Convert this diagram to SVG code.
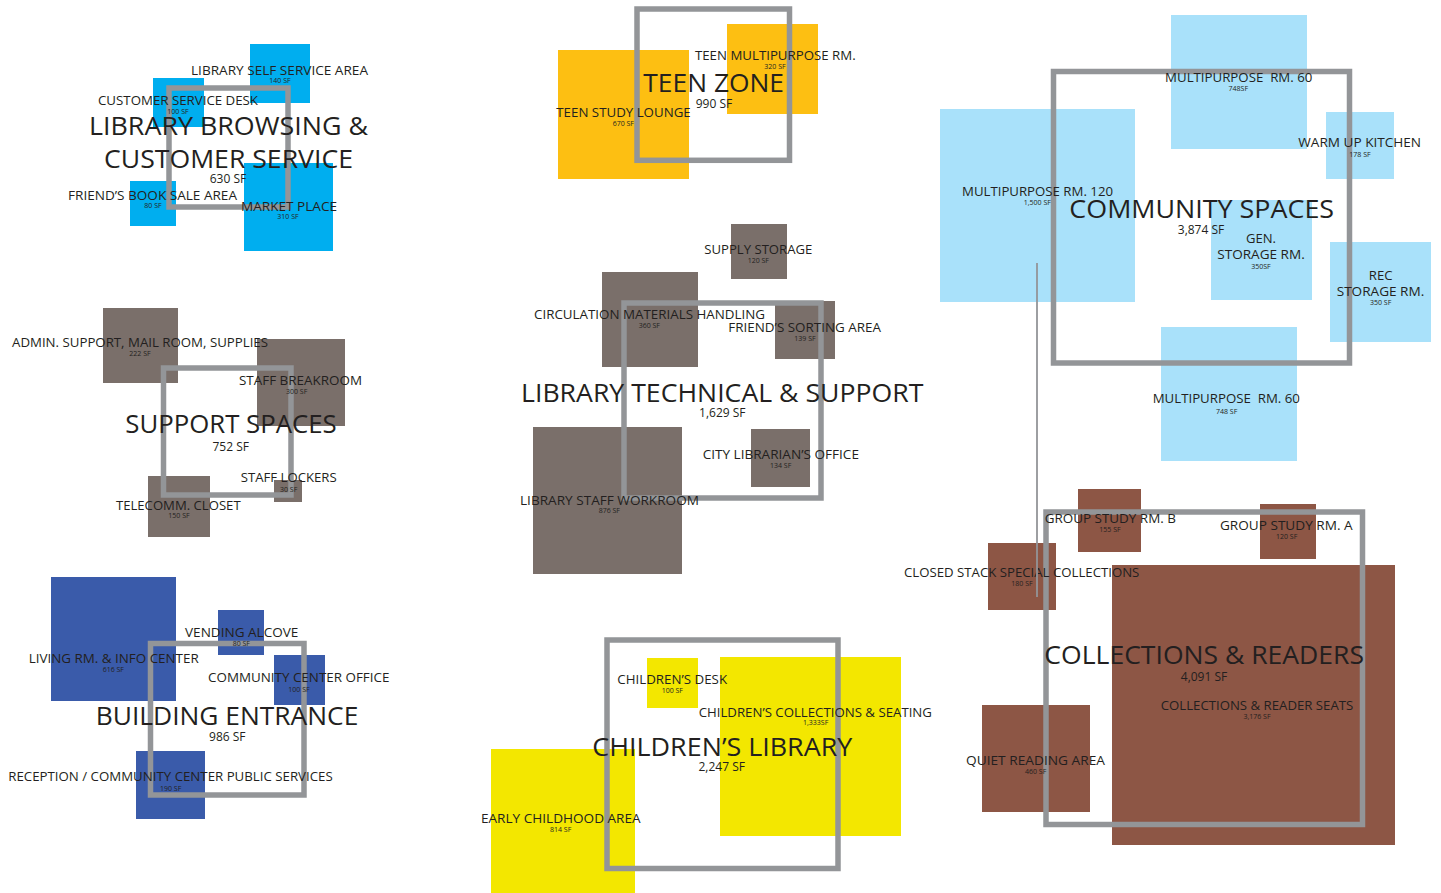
<svg xmlns="http://www.w3.org/2000/svg" width="1441" height="893" viewBox="0 0 1441 893">
<style>
text{font-family:"Open Sans","Noto Sans",sans-serif;fill:#231F20;text-anchor:middle}
.l{font-size:13px}
.s{font-size:7px}
.t{font-size:25.5px}
.m{font-size:12px}
.frame{fill:none;stroke:#939598;stroke-width:5.5}
.c1{fill:#00AEEF}.c2{fill:#7A6F6A}.c3{fill:#3A5BAA}.c4{fill:#FDBF12}.c5{fill:#F3E700}.c6{fill:#A9E1FA}.c7{fill:#8D5645}
</style>
<rect width="1441" height="893" fill="#FFFFFF"/>

<!-- LIBRARY BROWSING & CUSTOMER SERVICE -->
<g id="zone-browsing">
  <g id="room-self-service"><rect class="c1" x="250" y="44" width="60" height="59"/></g>
  <g id="room-customer-desk"><rect class="c1" x="153" y="78" width="51" height="49"/></g>
  <g id="room-book-sale"><rect class="c1" x="130" y="181" width="46" height="45"/></g>
  <g id="room-market-place"><rect class="c1" x="244" y="163" width="89" height="88"/></g>
  <rect class="frame" x="169" y="88" width="119" height="119"/>
  <g id="labels-browsing">
    <text class="l" x="279.5" y="74.7" textLength="177" lengthAdjust="spacingAndGlyphs">LIBRARY SELF SERVICE AREA</text>
    <text class="s" x="280" y="83.3">140 SF</text>
    <text class="l" x="178" y="105.3" textLength="160" lengthAdjust="spacingAndGlyphs">CUSTOMER SERVICE DESK</text>
    <text class="s" x="178" y="114.3">100 SF</text>
    <text class="t" x="228.5" y="135" textLength="279" lengthAdjust="spacingAndGlyphs">LIBRARY BROWSING &amp;</text>
    <text class="t" x="228.5" y="168" textLength="249" lengthAdjust="spacingAndGlyphs">CUSTOMER SERVICE</text>
    <text class="m" x="228" y="183">630 SF</text>
    <text class="l" x="152.5" y="200" textLength="169" lengthAdjust="spacingAndGlyphs">FRIEND’S BOOK SALE AREA</text>
    <text class="s" x="153" y="208.3">80 SF</text>
    <text class="l" x="289" y="210.7" textLength="96" lengthAdjust="spacingAndGlyphs">MARKET PLACE</text>
    <text class="s" x="288" y="219.3">310 SF</text>
  </g>
</g>

<!-- SUPPORT SPACES -->
<g id="zone-support">
  <g id="room-admin"><rect class="c2" x="103" y="308" width="75" height="75"/></g>
  <g id="room-breakroom"><rect class="c2" x="257" y="339" width="88" height="87"/></g>
  <g id="room-lockers"><rect class="c2" x="274" y="480" width="28" height="22"/></g>
  <g id="room-telecomm"><rect class="c2" x="148" y="476" width="62" height="61"/></g>
  <rect class="frame" x="163.5" y="368" width="127.5" height="127"/>
  <g id="labels-support">
    <text class="l" x="140" y="347.3" textLength="256" lengthAdjust="spacingAndGlyphs">ADMIN. SUPPORT, MAIL ROOM, SUPPLIES</text>
    <text class="s" x="140" y="356.3">222 SF</text>
    <text class="l" x="300.5" y="385" textLength="123" lengthAdjust="spacingAndGlyphs">STAFF BREAKROOM</text>
    <text class="s" x="296.7" y="393.6">300 SF</text>
    <text class="t" x="231" y="433.3" textLength="211.4" lengthAdjust="spacingAndGlyphs">SUPPORT SPACES</text>
    <text class="m" x="230.7" y="450.7">752 SF</text>
    <text class="l" x="288.7" y="481.7" textLength="96" lengthAdjust="spacingAndGlyphs">STAFF LOCKERS</text>
    <text class="s" x="288.7" y="492">30 SF</text>
    <text class="l" x="178.3" y="510" textLength="124.7" lengthAdjust="spacingAndGlyphs">TELECOMM. CLOSET</text>
    <text class="s" x="179" y="518.3">150 SF</text>
  </g>
</g>

<!-- BUILDING ENTRANCE -->
<g id="zone-entrance">
  <g id="room-living"><rect class="c3" x="51" y="577" width="125" height="124"/></g>
  <g id="room-vending"><rect class="c3" x="218" y="610" width="46" height="45"/></g>
  <g id="room-cc-office"><rect class="c3" x="274" y="655" width="51" height="50"/></g>
  <g id="room-reception"><rect class="c3" x="136" y="751" width="69" height="68"/></g>
  <rect class="frame" x="150.5" y="643.5" width="153.5" height="151.5"/>
  <g id="labels-entrance">
    <text class="l" x="241.7" y="636.7" textLength="113.3" lengthAdjust="spacingAndGlyphs">VENDING ALCOVE</text>
    <text class="s" x="241.3" y="645.6">80 SF</text>
    <text class="l" x="113.7" y="662.7" textLength="170" lengthAdjust="spacingAndGlyphs">LIVING RM. &amp; INFO CENTER</text>
    <text class="s" x="113.3" y="672">616 SF</text>
    <text class="l" x="298.7" y="681.7" textLength="181.3" lengthAdjust="spacingAndGlyphs">COMMUNITY CENTER OFFICE</text>
    <text class="s" x="299" y="692">100 SF</text>
    <text class="t" x="227" y="725" textLength="262.6" lengthAdjust="spacingAndGlyphs">BUILDING ENTRANCE</text>
    <text class="m" x="227.3" y="740.7">986 SF</text>
    <text class="l" x="170.5" y="780.7" textLength="324.4" lengthAdjust="spacingAndGlyphs">RECEPTION / COMMUNITY CENTER PUBLIC SERVICES</text>
    <text class="s" x="170.7" y="791">190 SF</text>
  </g>
</g>

<!-- TEEN ZONE -->
<g id="zone-teen">
  <g id="room-teen-lounge"><rect class="c4" x="558" y="50" width="131" height="129"/></g>
  <g id="room-teen-multi"><rect class="c4" x="727" y="24" width="91" height="90"/></g>
  <rect class="frame" x="637" y="9" width="152.5" height="151.3"/>
  <g id="labels-teen">
    <text class="l" x="775.3" y="60" textLength="160.7" lengthAdjust="spacingAndGlyphs">TEEN MULTIPURPOSE RM.</text>
    <text class="s" x="775" y="68.6">320 SF</text>
    <text class="t" x="713.7" y="91.7" textLength="140.7" lengthAdjust="spacingAndGlyphs">TEEN ZONE</text>
    <text class="m" x="714" y="108.3">990 SF</text>
    <text class="l" x="623.5" y="117.3" textLength="134.4" lengthAdjust="spacingAndGlyphs">TEEN STUDY LOUNGE</text>
    <text class="s" x="623.3" y="126.3">670 SF</text>
  </g>
</g>

<!-- LIBRARY TECHNICAL & SUPPORT -->
<g id="zone-technical">
  <g id="room-supply"><rect class="c2" x="731" y="224" width="56" height="55"/></g>
  <g id="room-circulation"><rect class="c2" x="602" y="272" width="96" height="95"/></g>
  <g id="room-sorting"><rect class="c2" x="775" y="301" width="60" height="58"/></g>
  <g id="room-librarian"><rect class="c2" x="751" y="429" width="59" height="58"/></g>
  <g id="room-workroom"><rect class="c2" x="533" y="427" width="149" height="147"/></g>
  <rect class="frame" x="624" y="303" width="197" height="195"/>
  <g id="labels-technical">
    <text class="l" x="758.3" y="254" textLength="108" lengthAdjust="spacingAndGlyphs">SUPPLY STORAGE</text>
    <text class="s" x="758.3" y="262.6">120 SF</text>
    <text class="l" x="649.5" y="319" textLength="231" lengthAdjust="spacingAndGlyphs">CIRCULATION MATERIALS HANDLING</text>
    <text class="s" x="649.3" y="327.6">360 SF</text>
    <text class="l" x="804.7" y="332.3" textLength="152.7" lengthAdjust="spacingAndGlyphs">FRIEND’S SORTING AREA</text>
    <text class="s" x="805" y="341">139 SF</text>
    <text class="t" x="722.2" y="401.7" textLength="402.3" lengthAdjust="spacingAndGlyphs">LIBRARY TECHNICAL &amp; SUPPORT</text>
    <text class="m" x="722.3" y="417.3">1,629 SF</text>
    <text class="l" x="780.8" y="459.3" textLength="156.3" lengthAdjust="spacingAndGlyphs">CITY LIBRARIAN’S OFFICE</text>
    <text class="s" x="780.7" y="467.6">134 SF</text>
    <text class="l" x="609.5" y="505" textLength="179" lengthAdjust="spacingAndGlyphs">LIBRARY STAFF WORKROOM</text>
    <text class="s" x="609.3" y="513">876 SF</text>
  </g>
</g>

<!-- CHILDREN'S LIBRARY -->
<g id="zone-children">
  <g id="room-children-desk"><rect class="c5" x="647" y="658" width="51" height="50"/></g>
  <g id="room-children-collections"><rect class="c5" x="720" y="657" width="181" height="179"/></g>
  <g id="room-early-childhood"><rect class="c5" x="491" y="749" width="144" height="144"/></g>
  <rect class="frame" x="607" y="640" width="231" height="228.5"/>
  <g id="labels-children">
    <text class="l" x="672.2" y="684" textLength="109.7" lengthAdjust="spacingAndGlyphs">CHILDREN’S DESK</text>
    <text class="s" x="672.3" y="693">100 SF</text>
    <text class="l" x="815.3" y="716.7" textLength="233.3" lengthAdjust="spacingAndGlyphs">CHILDREN’S COLLECTIONS &amp; SEATING</text>
    <text class="s" x="815.7" y="725.3">1,333SF</text>
    <text class="t" x="722.3" y="755.7" textLength="260" lengthAdjust="spacingAndGlyphs">CHILDREN’S LIBRARY</text>
    <text class="m" x="721.7" y="771">2,247 SF</text>
    <text class="l" x="560.8" y="822.7" textLength="159.7" lengthAdjust="spacingAndGlyphs">EARLY CHILDHOOD AREA</text>
    <text class="s" x="560.7" y="832">814 SF</text>
  </g>
</g>

<!-- COMMUNITY SPACES -->
<g id="zone-community">
  <g id="room-mp60-top"><rect class="c6" x="1171" y="15" width="136" height="134"/></g>
  <g id="room-kitchen"><rect class="c6" x="1326" y="112" width="68" height="67"/></g>
  <g id="room-mp120"><rect class="c6" x="940" y="109" width="195" height="193"/></g>
  <g id="room-gen-storage"><rect class="c6" x="1211" y="200" width="101" height="100"/></g>
  <g id="room-rec-storage"><rect class="c6" x="1330" y="242" width="101" height="100"/></g>
  <g id="room-mp60-bottom"><rect class="c6" x="1161" y="327" width="136" height="134"/></g>
  <rect class="frame" x="1053.5" y="71.5" width="296" height="291.5"/>
  <g id="labels-community">
    <text class="l" x="1238.7" y="81.7" textLength="147.3" lengthAdjust="spacingAndGlyphs" xml:space="preserve">MULTIPURPOSE  RM. 60</text>
    <text class="s" x="1238.3" y="91.3">748SF</text>
    <text class="l" x="1359.7" y="146.7" textLength="122.7" lengthAdjust="spacingAndGlyphs">WARM UP KITCHEN</text>
    <text class="s" x="1360" y="157">178 SF</text>
    <text class="l" x="1037.5" y="195.7" textLength="151" lengthAdjust="spacingAndGlyphs">MULTIPURPOSE RM. 120</text>
    <text class="s" x="1037.3" y="204.6">1,500 SF</text>
    <text class="t" x="1201.7" y="218.3" textLength="264.7" lengthAdjust="spacingAndGlyphs">COMMUNITY SPACES</text>
    <text class="m" x="1201" y="234.3">3,874 SF</text>
    <text class="l" x="1261" y="243.3" textLength="30" lengthAdjust="spacingAndGlyphs">GEN.</text>
    <text class="l" x="1261" y="259.3" textLength="87.4" lengthAdjust="spacingAndGlyphs">STORAGE RM.</text>
    <text class="s" x="1261" y="268.6">350SF</text>
    <text class="l" x="1380.7" y="280" textLength="23.7" lengthAdjust="spacingAndGlyphs">REC</text>
    <text class="l" x="1380.5" y="295.7" textLength="87.6" lengthAdjust="spacingAndGlyphs">STORAGE RM.</text>
    <text class="s" x="1380.7" y="304.6">350 SF</text>
    <text class="l" x="1226.3" y="403.3" textLength="147.3" lengthAdjust="spacingAndGlyphs" xml:space="preserve">MULTIPURPOSE  RM. 60</text>
    <text class="s" x="1226.7" y="413.6">748 SF</text>
  </g>
</g>

<!-- COLLECTIONS & READERS -->
<g id="zone-collections">
  <g id="room-group-b"><rect class="c7" x="1078" y="489" width="63" height="63"/></g>
  <g id="room-group-a"><rect class="c7" x="1260" y="504" width="56" height="55"/></g>
  <g id="room-closed-stack"><rect class="c7" x="988" y="543" width="68" height="67"/></g>
  <g id="room-reader-seats"><rect class="c7" x="1112" y="565" width="283" height="280"/></g>
  <g id="room-quiet-reading"><rect class="c7" x="982" y="705" width="108" height="107"/></g>
  <rect class="frame" x="1046" y="512" width="316.5" height="312.5"/>
  <g id="labels-collections">
    <text class="l" x="1110.3" y="522.7" textLength="131.3" lengthAdjust="spacingAndGlyphs">GROUP STUDY RM. B</text>
    <text class="s" x="1110" y="532">155 SF</text>
    <text class="l" x="1286.3" y="530" textLength="132.7" lengthAdjust="spacingAndGlyphs">GROUP STUDY RM. A</text>
    <text class="s" x="1286.7" y="538.6">120 SF</text>
    <text class="l" x="1021.7" y="576.7" textLength="235.3" lengthAdjust="spacingAndGlyphs">CLOSED STACK SPECIAL COLLECTIONS</text>
    <text class="s" x="1022" y="586">180 SF</text>
    <text class="t" x="1204.2" y="664.3" textLength="319.7" lengthAdjust="spacingAndGlyphs">COLLECTIONS &amp; READERS</text>
    <text class="m" x="1204" y="680.7">4,091 SF</text>
    <text class="l" x="1257" y="710" textLength="192.6" lengthAdjust="spacingAndGlyphs">COLLECTIONS &amp; READER SEATS</text>
    <text class="s" x="1257" y="719">3,176 SF</text>
    <text class="l" x="1035.5" y="765" textLength="139" lengthAdjust="spacingAndGlyphs">QUIET READING AREA</text>
    <text class="s" x="1035.7" y="773.6">460 SF</text>
  </g>
</g>

<g id="connectors">
  <line x1="1037" y1="263" x2="1037" y2="597" stroke="#939598" stroke-width="1.8"/>
</g>
</svg>
